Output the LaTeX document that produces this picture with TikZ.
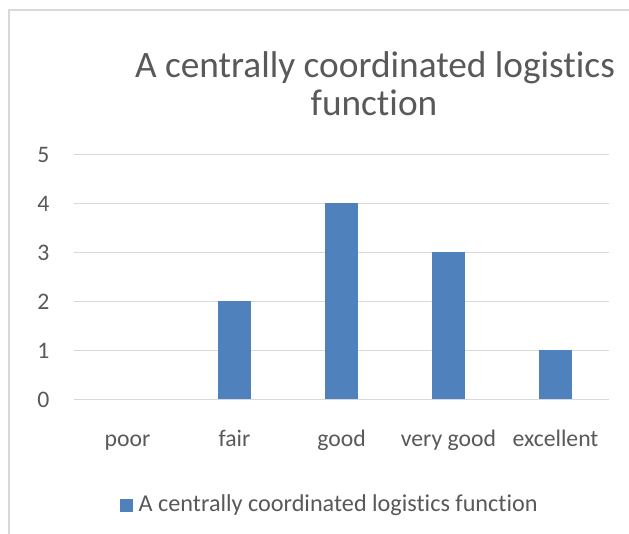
\documentclass[tikz,border=0pt]{standalone}
\usepackage{fontspec}
\setmainfont{Carlito}[Ligatures={NoCommon,NoRare,NoContextual}]
\definecolor{txtgrey}{HTML}{595959}
\definecolor{gridgrey}{HTML}{D9D9D9}
\definecolor{barblue}{HTML}{4F81BD}
\begin{document}
\begin{tikzpicture}[x=1pt,y=-1pt,
  gridline/.style={draw=gridgrey,line width=1.3pt},
  framebox/.style={draw=gridgrey,line width=1.2pt},
  bar/.style={fill=barblue,draw=none},
  ticklabel/.style={text=txtgrey,font=\fontsize{23.7}{28}\selectfont,inner sep=0pt},
  legendlabel/.style={text=txtgrey,font=\fontsize{24.2}{29}\selectfont,inner sep=0pt},
  titletext/.style={text=txtgrey,font=\fontsize{37.3}{44}\selectfont,inner sep=0pt,anchor=base},
]
\useasboundingbox (0,0) rectangle (629,533);
\fill[white] (0,0) rectangle (629,533);
% chart area border (continues past the right and bottom edges)
\draw[framebox] (9,540) -- (9,10) -- (640,10);

% title
\node[titletext] (title1) at (375,77) {A centrally coordinated logistics};
\node[titletext] (title2) at (374,115) {function};

% horizontal gridlines and value labels
\foreach \v in {0,...,5}{
  \coordinate (gl\v) at (74,{399.3-49*\v});
  \coordinate (gr\v) at (609,{399.3-49*\v});
  \draw[gridline] (gl\v) -- (gr\v);
  \node[ticklabel,anchor=east] (yl\v) at (49.5,{399.3-49*\v+0.6}) {\v};
}

% bars and category labels
\foreach \i/\name/\val in {0/poor/0,1/fair/2,2/good/4,3/very good/3,4/excellent/1}{
  \pgfmathsetmacro{\cx}{127.5+107*\i}
  \ifnum\val>0
    \fill[bar] ({\cx-16.8},399.3) rectangle ({\cx+16.8},{399.3-49*\val});
  \fi
  \node[ticklabel,anchor=base] (cat\i) at (\cx,446.7) {\name};
}

% legend
\node[fill=barblue,minimum size=12.5pt,inner sep=0pt] (legkey) at (126.5,505.5) {};
\node[legendlabel,anchor=base west] (legtext) at (138.5,511.7) {A centrally coordinated logistics function};
\end{tikzpicture}
\end{document}
